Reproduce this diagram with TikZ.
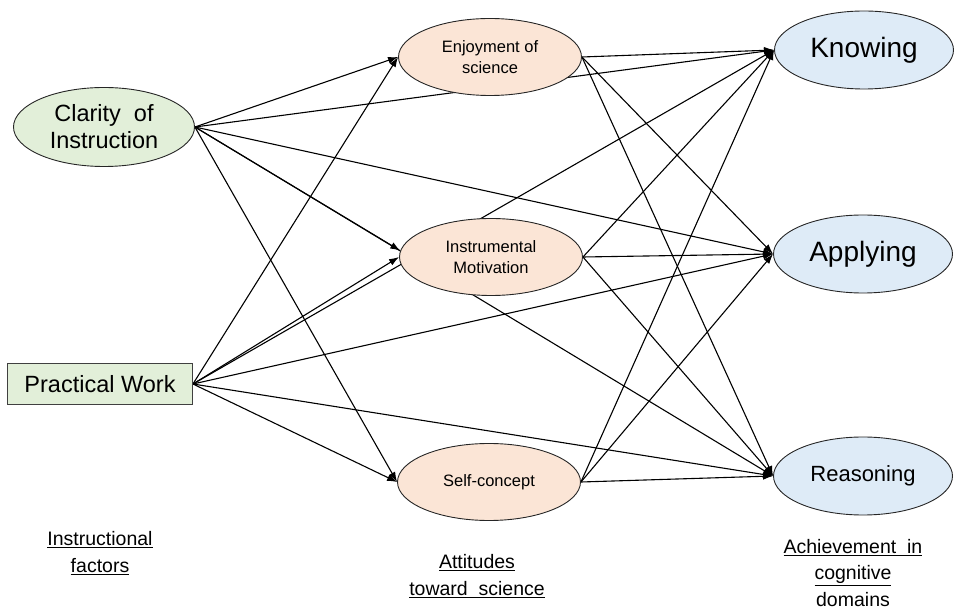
\documentclass[tikz,border=0pt]{standalone}
\usepackage{xcolor}
\usepackage{fontspec}
\setmainfont{Liberation Sans}
\usepackage{tikz}
\usetikzlibrary{shapes.geometric,arrows.meta,backgrounds}
\definecolor{instgreen}{HTML}{E2EFD9}
\definecolor{attpeach}{HTML}{FBE5D6}
\definecolor{achblue}{HTML}{DEEBF7}

\begin{document}
\begin{tikzpicture}[x=1pt,y=-1pt,
    >={Latex[length=10pt,width=7pt]},
    oval/.style={ellipse, draw=black!85, line width=0.9pt, inner sep=0pt, align=center},
    instbox/.style={oval, fill=instgreen, minimum width=181pt, minimum height=79pt, font=\fontsize{23.5}{27}\selectfont},
    attbox/.style={oval, fill=attpeach, minimum width=183pt, minimum height=77pt, font=\fontsize{16.5}{20.5}\selectfont},
    achbox/.style={oval, fill=achblue, minimum width=179pt, minimum height=78pt},
    grouplbl/.style={align=center, font=\fontsize{19.5}{26.5}\selectfont},
    link/.style={->, line width=1.1pt}]
    \useasboundingbox (0,0) rectangle (954,609);

    % instructional factors
    \node[instbox] (clarity) at (104,127) {Clarity\ \ of\\Instruction};
    \node[rectangle, draw=black!75, line width=0.9pt, fill=instgreen, minimum width=185pt, minimum height=41pt,
          inner sep=0pt, font=\fontsize{23.5}{27}\selectfont] (practical) at (100,384) {Practical Work};

    % attitudes
    \node[attbox] (enjoy) at (490,57) {Enjoyment of\\science};
    \node[attbox] (instr) at (491,257) {Instrumental\\Motivation};
    \node[attbox] (selfc) at (489,482) {Self-concept};

    % cognitive domains
    \node[achbox, font=\fontsize{28}{32}\selectfont] (know) at (864,50) {Knowing};
    \node[achbox, font=\fontsize{28}{32}\selectfont] (apply) at (863,254) {Applying};
    \node[achbox, font=\fontsize{22}{26}\selectfont] (reason) at (863,476) {Reasoning};

    \node[grouplbl] (lblinst) at (100,553) {\underline{Instructional}\\\underline{factors}};
    \node[grouplbl] (lblatt) at (477,576) {\underline{Attitudes}\\\underline{toward\ \ science}};
    \node[grouplbl] (lblach) at (853,573) {\underline{Achievement\ \ in}\\\underline{cognitive}\\domains};

    \begin{scope}[on background layer]
    \draw[link] (clarity.east) -- (enjoy.west);
    \draw[link] (clarity.east) -- (instr.176);
    \draw[link] (clarity.east) -- (selfc.west);
    \draw[link] (clarity.east) -- (know.west);
    \draw[link] (clarity.east) -- (apply.west);
    \draw[link] (clarity.east) -- (reason.west);

    \draw[link] (practical.east) -- (enjoy.west);
    \draw[link] (practical.east) -- (instr.west);
    \draw[link] (practical.east) -- (selfc.west);
    \draw[link] (practical.east) -- (know.west);
    \draw[link] (practical.east) -- (apply.west);
    \draw[link] (practical.east) -- (reason.west);

    \draw[link] (enjoy.east) -- (know.west);
    \draw[link] (enjoy.east) -- (apply.west);
    \draw[link] (enjoy.east) -- (reason.west);
    \draw[link] (instr.east) -- (know.west);
    \draw[link] (instr.east) -- (apply.west);
    \draw[link] (instr.east) -- (reason.west);
    \draw[link] (selfc.east) -- (know.west);
    \draw[link] (selfc.east) -- (apply.west);
    \draw[link] (selfc.east) -- (reason.west);
    \end{scope}
\end{tikzpicture}
\end{document}
